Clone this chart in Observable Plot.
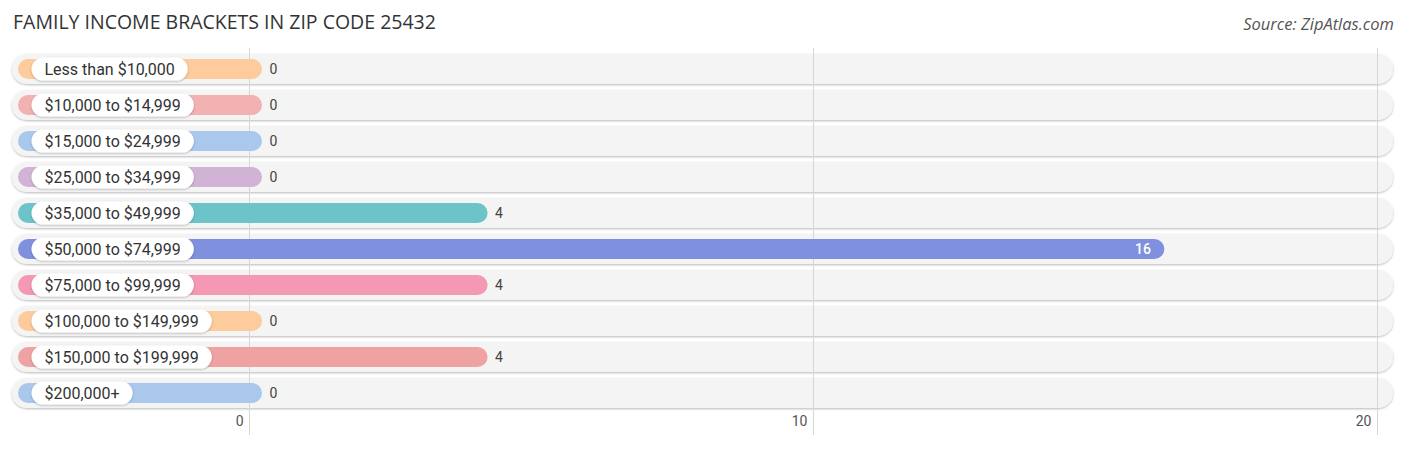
<!DOCTYPE html>
<html>
<head>
<meta charset="utf-8">
<script src="https://cdn.jsdelivr.net/npm/d3@7"></script>
<script src="https://cdn.jsdelivr.net/npm/@observablehq/plot@0.6"></script>
<style>
  html, body { margin: 0; padding: 0; background: #fff; }
  #header { position: relative; width: 1406px; height: 44px; }
  #title { position: absolute; left: 13px; top: 8px; font-family: "Open Sans", sans-serif; font-size: 19.5px; color: #333; }
  #source { position: absolute; right: 12px; top: 12px; font-family: "Open Sans", sans-serif; font-style: italic; font-size: 16.5px; color: #555; }
  #chart svg { display: block; font-family: Roboto, sans-serif; }
</style>
</head>
<body>
<div id="header">
  <div id="title">FAMILY INCOME BRACKETS IN ZIP CODE 25432</div>
  <div id="source">Source: ZipAtlas.com</div>
</div>
<div id="chart"></div>
<script>
const categories = [
  "Less than $10,000",
  "$10,000 to $14,999",
  "$15,000 to $24,999",
  "$25,000 to $34,999",
  "$35,000 to $49,999",
  "$50,000 to $74,999",
  "$75,000 to $99,999",
  "$100,000 to $149,999",
  "$150,000 to $199,999",
  "$200,000+"
];
const values = [0, 0, 0, 0, 4, 16, 4, 0, 4, 0];
const colors = ["#fdcb9c", "#f2b2b1", "#a9c8ec", "#d1b3d6", "#6cc4c9", "#7f91de", "#f598b4", "#fdcb9c", "#eea3a2", "#a9c8ec"];
const ticks = [0, 10, 20];

const data = categories.map((c, i) => ({c, v: values[i], color: colors[i]}));

const plot = Plot.plot({
  width: 1406,
  height: 406,
  marginTop: 0, marginBottom: 0, marginLeft: 0, marginRight: 0,
  x: {domain: [0, 20], range: [249, 1377], axis: null},
  y: {domain: categories, range: [7, 367], padding: 0, axis: null},
  color: {type: "identity"},
  marks: [
    Plot.barX(data, {y: "c", x1: 0, x2: 20, insetLeft: -237, insetRight: -16, insetTop: 3, insetBottom: 3, rx: 15, fill: "#f4f4f4"}),
    Plot.ruleX(ticks, {x: d => d, stroke: "#d6d6d6", strokeWidth: 1, insetTop: 4, insetBottom: 15}),
    Plot.barX(data, {y: "c", x1: 0, x2: "v", insetLeft: -231, insetRight: -13, insetTop: 8, insetBottom: 8, rx: 10, fill: d => d.color}),
    Plot.text(data, {y: "c", frameAnchor: "left", dx: 44, text: "c", textAnchor: "start", fontSize: 16, fill: "#333"}),
    Plot.text(data.filter(d => d.v < 10), {y: "c", x: "v", text: d => String(d.v), dx: 20, textAnchor: "start", fontSize: 14, fill: "#444"}),
    Plot.text(data.filter(d => d.v >= 10), {y: "c", x: "v", text: d => String(d.v), dx: -1, textAnchor: "end", fontSize: 14, fontWeight: 500, fill: "#fff"}),
    Plot.text(ticks, {x: d => d, frameAnchor: "bottom", dy: -25, dx: -6, textAnchor: "end", text: d => String(d), fontSize: 14, fill: "#555"})
  ]
});

document.getElementById("chart").appendChild(plot);

const svg = d3.select(plot);
const markGroups = svg.selectChildren("g").nodes();
const rowBg = markGroups[0];
const labelGroup = markGroups[3];

// drop-shadow filters
const defs = svg.insert("defs", ":first-child");
const f1 = defs.append("filter").attr("id", "rowShadow").attr("x", "-5%").attr("y", "-50%").attr("width", "110%").attr("height", "200%");
f1.append("feDropShadow").attr("dx", 0).attr("dy", 1).attr("stdDeviation", 1.2).attr("flood-color", "#000").attr("flood-opacity", 0.28);
const f2 = defs.append("filter").attr("id", "pillShadow").attr("x", "-20%").attr("y", "-50%").attr("width", "140%").attr("height", "200%");
f2.append("feDropShadow").attr("dx", 0).attr("dy", 1).attr("stdDeviation", 1.2).attr("flood-color", "#000").attr("flood-opacity", 0.25);
d3.select(rowBg).attr("filter", "url(#rowShadow)");

// white pills behind category labels, sized from the rendered text
const labelG = d3.select(labelGroup);
const texts = labelG.selectAll("text").nodes();
const pillG = labelG.insert("g", ":first-child").attr("filter", "url(#pillShadow)");
texts.forEach(t => {
  const b = t.getBBox();
  const cy = b.y + b.height / 2;
  const r = pillG.append("rect")
    .attr("x", b.x - 13)
    .attr("y", cy - 11.5)
    .attr("width", b.width + 26)
    .attr("height", 23)
    .attr("rx", 11.5)
    .attr("fill", "#fff");
  const tr = t.getAttribute("transform");
  if (tr) r.attr("transform", tr);
  if (t.hasAttribute("x") && !tr) { /* x/y already in bbox */ }
});
</script>
</body>
</html>
